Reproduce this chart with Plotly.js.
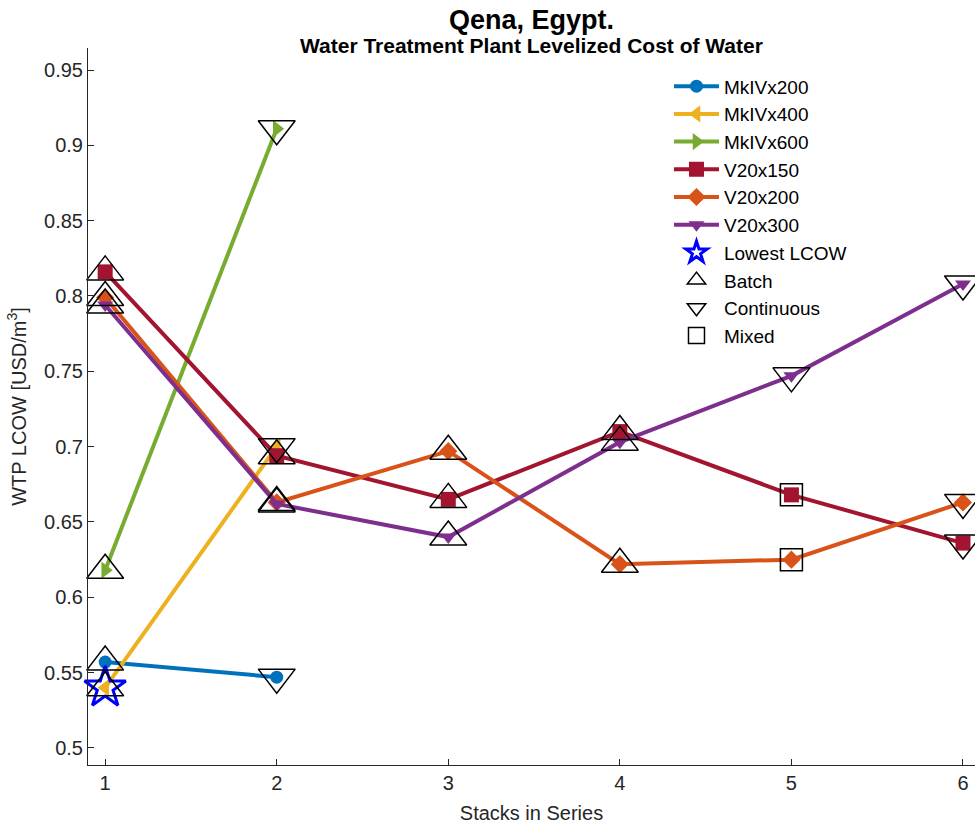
<!DOCTYPE html>
<html><head><meta charset="utf-8">
<script src="https://cdn.plot.ly/plotly-3.0.1.min.js"></script>
<style>body{margin:0;background:#fff}#c{width:975px;height:824px}</style>
</head><body><div id="c"></div>
<script>
// ---- data ----
const seriesNames = ['MkIVx200','MkIVx400','MkIVx600','V20x150','V20x200','V20x300'];
const x_MkIVx200 = [1, 2];
const y_MkIVx200 = [0.557, 0.547];
const m_MkIVx200 = ['Batch', 'Continuous'];
const x_MkIVx400 = [1, 2];
const y_MkIVx400 = [0.540, 0.700];
const m_MkIVx400 = ['Batch', 'Continuous'];
const x_MkIVx600 = [1, 2];
const y_MkIVx600 = [0.618, 0.911];
const m_MkIVx600 = ['Batch', 'Continuous'];
const x_V20 = [1, 2, 3, 4, 5, 6];
const y_V20x150 = [0.816, 0.694, 0.665, 0.710, 0.668, 0.636];
const m_V20x150 = ['Batch','Batch','Batch','Batch','Mixed','Continuous'];
const y_V20x200 = [0.799, 0.663, 0.697, 0.622, 0.625, 0.663];
const m_V20x200 = ['Batch','Batch','Batch','Batch','Mixed','Continuous'];
const y_V20x300 = [0.794, 0.662, 0.640, 0.703, 0.747, 0.808];
const m_V20x300 = ['Batch','Batch','Batch','Batch','Continuous','Continuous'];
const lowestX = [1];
const lowestY = [0.540];
const yTicks = [0.5,0.55,0.6,0.65,0.7,0.75,0.8,0.85,0.9,0.95];
const xTicks = [1,2,3,4,5,6];
const titleText = 'Qena, Egypt.';
const subtitleText = 'Water Treatment Plant Levelized Cost of Water';

// ---- styles ----
const colors = ['#0072BD','#EDB120','#77AC30','#A2142F','#D95319','#7E2F8E'];
const symbols = ['circle','triangle-left','triangle-right','square','diamond','triangle-down'];
const msizes = [13,15,15,15,14,14];
const xs = [x_MkIVx200, x_MkIVx400, x_MkIVx600, x_V20, x_V20, x_V20];
const ys = [y_MkIVx200, y_MkIVx400, y_MkIVx600, y_V20x150, y_V20x200, y_V20x300];
const ms = [m_MkIVx200, m_MkIVx400, m_MkIVx600, m_V20x150, m_V20x200, m_V20x300];

const traces = [];
seriesNames.forEach((n,i)=>{
  traces.push({x:xs[i], y:ys[i], name:n, type:'scatter', mode:'lines+markers',
    line:{color:colors[i], width:4},
    marker:{symbol:symbols[i], size:msizes[i], color:colors[i], line:{width:0}},
    cliponaxis:false});
});
traces.push({x:lowestX, y:lowestY, name:'Lowest LCOW', type:'scatter', mode:'markers',
  marker:{symbol:'star-open', size:31, color:'#0000FF', line:{width:3, color:'#0000FF'}}, cliponaxis:false});
const modeDefs = [['Batch','triangle-up-open',32],['Continuous','triangle-down-open',32],['Mixed','square-open',22]];
modeDefs.forEach(([mode,sym,sz])=>{
  const mx=[], my=[];
  ms.forEach((arr,i)=>arr.forEach((m,j)=>{ if(m===mode){ mx.push(xs[i][j]); my.push(ys[i][j]); } }));
  traces.push({x:mx, y:my, name:mode, type:'scatter', mode:'markers',
    marker:{symbol:sym, size:sz, color:'#000', line:{width:1.5, color:'#000'}}, cliponaxis:false});
});

const fam = 'Liberation Sans, Arial, sans-serif';
const layout = {
  width:975, height:824,
  margin:{l:88, r:0, t:48, b:59},
  paper_bgcolor:'#fff', plot_bgcolor:'#fff',
  font:{family:fam, color:'#262626', size:20},
  annotations:[
    {text:'<b>'+titleText+'</b>', xref:'paper', yref:'paper', x:0.5, y:1.039, xanchor:'center', yanchor:'middle',
     showarrow:false, font:{size:27, color:'#000'}},
    {text:'<b>'+subtitleText+'</b>', xref:'paper', yref:'paper', x:0.5, y:1.003, xanchor:'center', yanchor:'middle',
     showarrow:false, font:{size:21, color:'#000'}}
  ],
  xaxis:{range:[0.9, 6.07], tickvals:xTicks, ticktext:xTicks.map(String), ticks:'inside', ticklen:6,
    tickcolor:'#262626', showline:true, linecolor:'#262626', linewidth:1, showgrid:false, zeroline:false,
    tickfont:{size:20}, title:{text:'Stacks in Series', font:{size:20}, standoff:12}},
  yaxis:{range:[0.4887, 0.9646], tickvals:yTicks, ticktext:yTicks.map(v=>String(v)), ticks:'inside', ticklen:6,
    tickcolor:'#262626', showline:true, linecolor:'#262626', linewidth:1, showgrid:false, zeroline:false,
    tickfont:{size:20}, title:{text:'WTP LCOW [USD/m<sup>3</sup>]', font:{size:20}, standoff:12}},
  showlegend:true,
  legend:{x:0.655, y:0.973, xanchor:'left', yanchor:'top', bgcolor:'rgba(255,255,255,0)',
    font:{size:19, color:'#000'}, itemwidth:45, tracegroupgap:0, itemsizing:'trace'}
};
Plotly.newPlot('c', traces, layout, {displayModeBar:false, staticPlot:true});
</script></body></html>
